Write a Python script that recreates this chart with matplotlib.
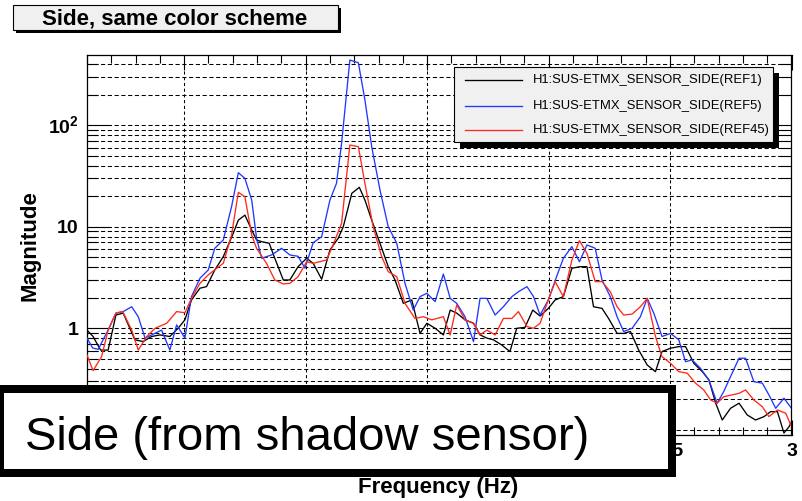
import numpy as np
import matplotlib
matplotlib.use('Agg')
import matplotlib.pyplot as plt
from matplotlib.patches import Rectangle
from matplotlib.lines import Line2D
from matplotlib.ticker import MultipleLocator, LogLocator, FuncFormatter, NullFormatter

plt.rcParams['font.family'] = ['Liberation Sans', 'DejaVu Sans']
plt.rcParams['mathtext.fontset'] = 'custom'
plt.rcParams['mathtext.rm'] = 'Liberation Sans:bold'
plt.rcParams['mathtext.bf'] = 'Liberation Sans:bold'

labels = ['H1:SUS-ETMX_SENSOR_SIDE(REF1)',
          'H1:SUS-ETMX_SENSOR_SIDE(REF5)',
          'H1:SUS-ETMX_SENSOR_SIDE(REF45)']
colors = ['black', '#2038ff', '#ff2a1a']

# REF1 (black)
f_ref1 = [0.1, 0.125, 0.156, 0.187, 0.219, 0.249, 0.297, 0.331, 0.366, 0.400,
          0.441, 0.475, 0.503, 0.530, 0.565, 0.592, 0.626, 0.661, 0.702, 0.723,
          0.750, 0.778, 0.798, 0.819, 0.850, 0.873, 0.908, 0.935, 0.969, 1.004,
          1.031, 1.066, 1.100, 1.134, 1.155, 1.190, 1.221, 1.244, 1.272, 1.306,
          1.340, 1.368, 1.402, 1.437, 1.471, 1.499, 1.533, 1.567, 1.595, 1.622,
          1.656, 1.691, 1.718, 1.746, 1.773, 1.807, 1.841, 1.869, 1.903, 1.935,
          1.965, 1.999, 2.027, 2.061, 2.096, 2.130, 2.158, 2.185, 2.220, 2.247,
          2.282, 2.309, 2.337, 2.371, 2.406, 2.440, 2.467, 2.502, 2.536, 2.564,
          2.598, 2.633, 2.660, 2.688, 2.715, 2.749, 2.784, 2.818, 2.852, 2.887,
          2.914, 2.942, 2.969, 2.990, 3.0]
m_ref1 = [0.96, 0.83, 0.61, 0.61, 1.35, 1.41, 0.77, 0.74, 0.83, 0.86,
          0.83, 1.0, 1.21, 1.90, 2.48, 2.57, 3.75, 5.07, 8.61, 11.6,
          13.0, 9.28, 7.40, 7.12, 6.87, 4.89, 2.99, 2.99, 4.04, 4.89,
          4.36, 3.04, 5.90, 7.69, 10.0, 21.3, 24.4, 18.3, 11.6, 6.87,
          4.04, 2.99, 1.76, 1.90, 0.89, 1.12, 1.0, 0.86, 1.51, 1.41,
          1.21, 1.12, 0.86, 0.80, 0.77, 0.685, 0.59, 1.0, 1.02, 1.51,
          1.32, 1.57, 1.90, 2.05, 3.90, 4.04, 4.04, 1.63, 1.57, 1.25,
          0.89, 0.89, 0.93, 0.61, 0.435, 0.374, 0.59, 0.636, 0.66, 0.66,
          0.452, 0.374, 0.31, 0.183, 0.125, 0.163, 0.183, 0.14, 0.125, 0.135,
          0.151, 0.151, 0.093, 0.1075, 0.12]

# REF5 (blue)
f_ref5 = [0.1, 0.123, 0.146, 0.187, 0.219, 0.249, 0.284, 0.311, 0.339, 0.366,
          0.407, 0.441, 0.469, 0.503, 0.530, 0.565, 0.599, 0.626, 0.661, 0.695,
          0.723, 0.750, 0.778, 0.798, 0.819, 0.860, 0.901, 0.935, 0.969, 0.997,
          1.031, 1.066, 1.100, 1.127, 1.148, 1.182, 1.217, 1.244, 1.272, 1.306,
          1.340, 1.375, 1.409, 1.443, 1.471, 1.499, 1.533, 1.567, 1.595, 1.622,
          1.656, 1.691, 1.718, 1.746, 1.780, 1.814, 1.849, 1.876, 1.911, 1.938,
          1.965, 1.999, 2.033, 2.061, 2.096, 2.127, 2.158, 2.192, 2.220, 2.254,
          2.282, 2.309, 2.344, 2.378, 2.406, 2.433, 2.467, 2.502, 2.536, 2.564,
          2.591, 2.625, 2.660, 2.694, 2.721, 2.749, 2.784, 2.811, 2.845, 2.880,
          2.907, 2.935, 2.969, 3.0]
m_ref5 = [0.80, 0.64, 0.62, 0.96, 1.41, 1.46, 1.63, 1.30, 0.80, 0.86,
          0.96, 0.61, 1.08, 0.80, 2.05, 3.11, 3.75, 6.13, 7.40, 15.7,
          34.0, 29.9, 18.3, 7.69, 4.89, 5.27, 6.13, 5.27, 5.11, 3.90,
          6.96, 7.97, 18.3, 26.7, 66.2, 437, 411, 177, 61.3, 23.0,
          10.0, 6.87, 2.77, 1.51, 2.05, 2.21, 1.83, 3.42, 1.97, 1.76,
          1.30, 0.74, 1.97, 1.97, 1.35, 1.63, 2.05, 2.29, 2.57, 2.05,
          1.35, 1.90, 3.22, 4.89, 6.36, 4.52, 6.61, 6.13, 2.99, 2.05,
          1.30, 0.93, 1.0, 1.30, 1.97, 1.41, 0.83, 0.89, 0.77, 0.469,
          0.488, 0.404, 0.31, 0.183, 0.238, 0.334, 0.507, 0.507, 0.298, 0.288,
          0.221, 0.163, 0.205, 0.163]

# REF45 (red)
f_ref45 = [0.1, 0.125, 0.160, 0.187, 0.219, 0.247, 0.284, 0.311, 0.346, 0.380,
           0.428, 0.469, 0.503, 0.530, 0.565, 0.599, 0.634, 0.661, 0.695, 0.723,
           0.750, 0.778, 0.798, 0.839, 0.873, 0.908, 0.935, 0.969, 1.004, 1.031,
           1.086, 1.113, 1.148, 1.182, 1.217, 1.244, 1.278, 1.313, 1.340, 1.375,
           1.409, 1.450, 1.485, 1.519, 1.567, 1.595, 1.622, 1.656, 1.691, 1.718,
           1.746, 1.780, 1.814, 1.849, 1.876, 1.911, 1.938, 1.965, 1.999, 2.027,
           2.061, 2.096, 2.127, 2.158, 2.192, 2.220, 2.254, 2.282, 2.309, 2.344,
           2.378, 2.406, 2.440, 2.467, 2.502, 2.536, 2.571, 2.605, 2.639, 2.667,
           2.694, 2.721, 2.756, 2.784, 2.811, 2.845, 2.880, 2.907, 2.942, 2.976,
           3.0]
m_ref45 = [0.546, 0.383, 0.525, 0.96, 1.41, 1.46, 0.96, 0.61, 0.83, 1.0,
           1.12, 1.46, 1.42, 1.97, 2.77, 3.35, 3.90, 4.36, 8.28, 21.8,
           19.7, 8.28, 6.13, 4.36, 2.99, 2.73, 2.77, 3.22, 4.52, 4.36,
           4.70, 6.61, 10.8, 63.7, 61.3, 26.7, 10.0, 5.07, 3.61, 3.22,
           1.76, 1.25, 1.30, 1.21, 1.30, 0.86, 1.70, 1.21, 1.12, 0.86,
           0.96, 0.86, 1.25, 1.25, 1.46, 1.04, 1.0, 1.12, 1.90, 2.88,
           2.05, 4.70, 7.28, 5.47, 2.88, 2.88, 2.29, 1.63, 1.35, 1.38,
           1.63, 1.97, 0.83, 0.525, 0.452, 0.374, 0.361, 0.288, 0.247, 0.197,
           0.183, 0.212, 0.221, 0.229, 0.247, 0.197, 0.169, 0.135, 0.157, 0.146,
           0.1075]

series = [(f_ref1, m_ref1), (f_ref5, m_ref5), (f_ref45, m_ref45)]

W, H = 803, 501
fig = plt.figure(figsize=(W / 100, H / 100), dpi=100)


def fx(x):
    return x / W


def fy(y):
    return 1 - y / H


ax = fig.add_axes([fx(87), fy(434.5), fx(791.5) - fx(87), fy(55) - fy(434.5)])

for (f, m), c, lab in zip(series, colors, labels):
    ax.plot(f, m, color=c, lw=0.95, label=lab, zorder=3)

ax.set_yscale('log')
ax.set_xlim(0.1, 3.0)
ax.set_ylim(0.09, 490)

ax.xaxis.set_major_locator(MultipleLocator(0.5))
ax.xaxis.set_minor_locator(MultipleLocator(0.1))
# the caption box covers the frequency labels below 2.5 Hz
ax.xaxis.set_major_formatter(FuncFormatter(lambda v, p: ('%g' % v) if v > 2.2 else ''))
ax.yaxis.set_major_locator(LogLocator(base=10))
ax.yaxis.set_minor_locator(LogLocator(base=10, subs=np.arange(2, 10)))
ax.yaxis.set_minor_formatter(NullFormatter())


def ylab(v, pos):
    if v >= 99:
        return r'10$^{%d}$' % int(round(np.log10(v)))
    return '%g' % v


ax.yaxis.set_major_formatter(FuncFormatter(ylab))

ax.tick_params(axis='both', which='both', direction='in', top=True, right=True,
               color='black', width=0.8)
ax.tick_params(axis='y', which='major', length=16, pad=6)
ax.tick_params(axis='y', which='minor', length=8)
ax.tick_params(axis='x', which='major', length=11, pad=6)
ax.tick_params(axis='x', which='minor', length=5.5)
for t in ax.get_xticklabels() + ax.get_yticklabels():
    t.set_fontsize(14)
    t.set_fontweight('bold')

ax.set_axisbelow(True)
ax.grid(True, axis='y', which='both', color='black', lw=0.75, ls=(0, (4, 2.5)))
ax.grid(True, axis='x', which='major', color='black', lw=0.75, ls=(0, (3, 2.5)))
for s in ax.spines.values():
    s.set_linewidth(0.9)

# axis titles
fig.text(fx(438), fy(488), 'Frequency (Hz)', fontsize=16, fontweight='bold',
         ha='center', va='center')
fig.text(fx(30), fy(246), 'Magnitude', fontsize=16, fontweight='bold',
         rotation=90, ha='center', va='center')

# title box with shadow
fig.add_artist(Rectangle((fx(16), fy(33)), fx(325), fy(0) - fy(25),
                         transform=fig.transFigure, facecolor='black',
                         edgecolor='none', zorder=5))
fig.add_artist(Rectangle((fx(13), fy(30)), fx(325), fy(0) - fy(25),
                         transform=fig.transFigure, facecolor='#f0f0f0',
                         edgecolor='black', lw=0.8, zorder=6))
fig.text(fx(175), fy(18.5), 'Side, same color scheme', fontsize=16,
         fontweight='bold', ha='center', va='center', zorder=7)

# legend box with shadow
fig.add_artist(Rectangle((fx(460), fy(148)), fx(319), fy(0) - fy(75),
                         transform=fig.transFigure, facecolor='black',
                         edgecolor='none', zorder=8))
fig.add_artist(Rectangle((fx(454), fy(142)), fx(319), fy(0) - fy(75),
                         transform=fig.transFigure, facecolor='#f0f0f0',
                         edgecolor='black', lw=0.8, zorder=9))
for row_y, c, lab in zip([79.5, 105.5, 130], colors, labels):
    fig.add_artist(Line2D([fx(465), fx(522)], [fy(row_y), fy(row_y)],
                          transform=fig.transFigure, color=c, lw=0.95, zorder=10))
    fig.text(fx(533), fy(row_y), lab, fontsize=9.4, ha='left', va='center',
             zorder=10)

# caption box over the lower left of the plot
fig.add_artist(Rectangle((fx(0), fy(473)), fx(672), fy(389) - fy(473),
                         transform=fig.transFigure, facecolor='white',
                         edgecolor='black', lw=5.76, zorder=20))
fig.text(fx(25), fy(450), 'Side (from shadow sensor)', fontsize=34,
         ha='left', va='baseline', zorder=21)

fig.savefig('out.png', dpi=100)
